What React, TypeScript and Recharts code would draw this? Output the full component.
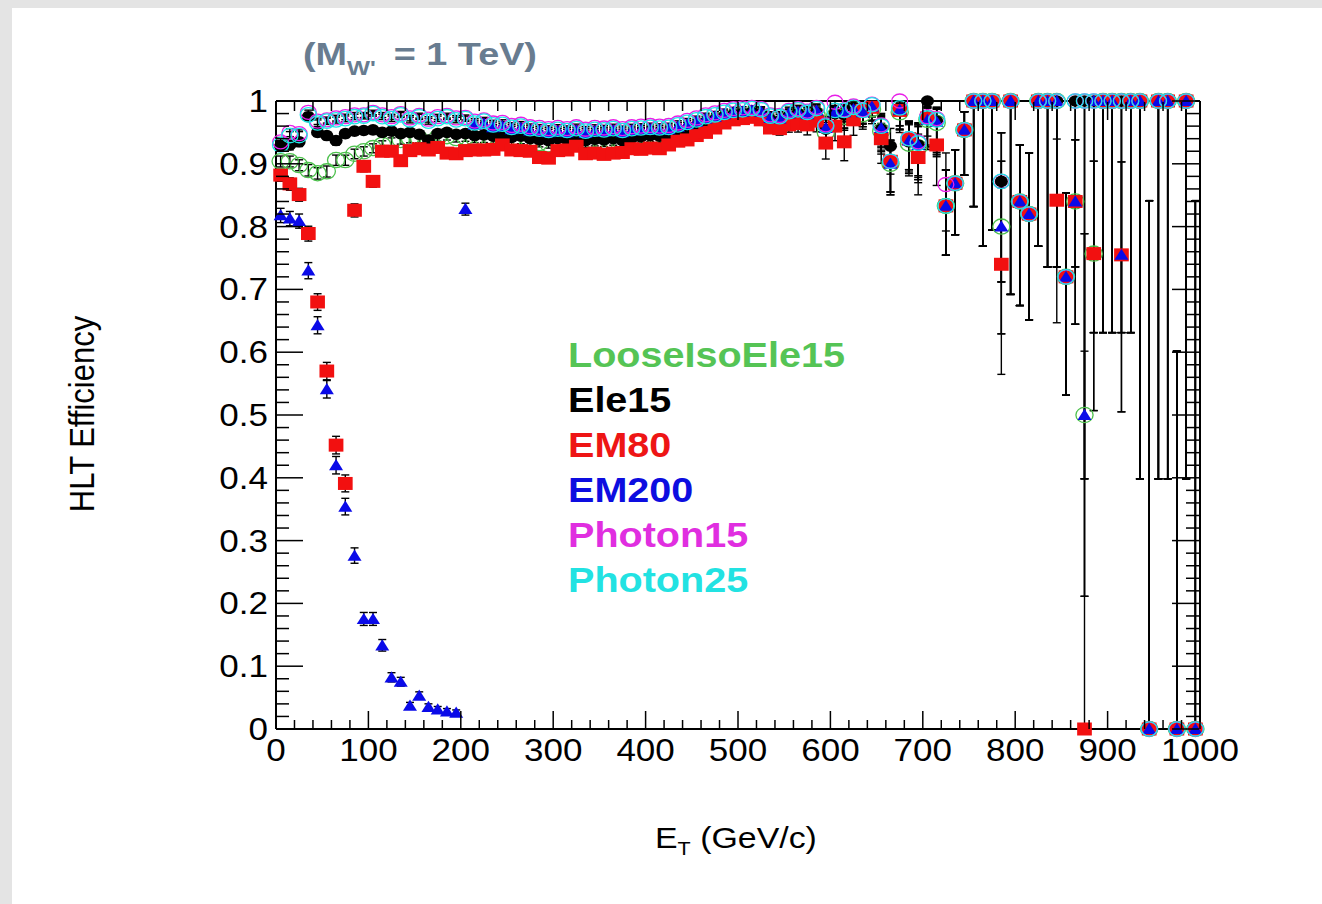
import React from "react";
import { ErrorBar, Legend, ReferenceLine, Scatter, ScatterChart, XAxis, YAxis } from "recharts";

// 10 GeV bins (centres, GeV)
const binCenters = [
  5, 15, 25, 35, 45, 55, 65, 75, 85, 95,
  105, 115, 125, 135, 145, 155, 165, 175, 185, 195,
  205, 215, 225, 235, 245, 255, 265, 275, 285, 295,
  305, 315, 325, 335, 345, 355, 365, 375, 385, 395,
  405, 415, 425, 435, 445, 455, 465, 475, 485, 495,
  505, 515, 525, 535, 545, 555, 565, 575, 585, 595,
  605, 615, 625, 635, 645, 655, 665, 675, 685, 695,
  705, 715, 725, 735, 745, 755, 765, 775, 785, 795,
  805, 815, 825, 835, 845, 855, 865, 875, 885, 895,
  905, 915, 925, 935, 945, 955, 965, 975, 985, 995,
];

// reconstructed electrons per bin (denominator of every efficiency)
const eventsPerBin = [
  1150, 1170, 1210, 1190, 1240, 1280, 1260, 1310, 1330, 1350,
  1370, 1360, 1400, 1430, 1420, 1470, 1490, 1480, 1530, 1550,
  1580, 1600, 1650, 1640, 1700, 1760, 1750, 1820, 1870, 1900,
  1960, 1990, 2060, 2090, 2170, 2200, 2250, 2330, 2370, 2460,
  2490, 2570, 2600, 2690, 2730, 2810, 2850, 2920, 2940, 2980,
  2600, 1800, 1100, 700, 480, 350, 260, 200, 160, 130,
  110, 95, 85, 75, 65, 58, 52, 46, 40, 36,
  32, 28, 30, 25, 20, 10, 7, 8, 8, 5,
  8, 8, 7, 6, 6, 7, 6, 2, 4, 4,
  4, 4, 4, 2, 1, 2, 2, 2, 2, 1,
];

const looseIsoEle15 = [
  0.904, 0.904, 0.898, 0.89, 0.885, 0.888, 0.906, 0.906, 0.916, 0.92,
  0.925, 0.93, 0.935, 0.938, 0.94, 0.94, 0.933, 0.942, 0.944, 0.941,
  0.942, 0.94, 0.94, 0.938, 0.94, 0.936, 0.938, 0.934, 0.933, 0.931,
  0.934, 0.933, 0.936, 0.932, 0.934, 0.933, 0.935, 0.932, 0.936, 0.938,
  0.94, 0.939, 0.941, 0.945, 0.95, 0.955, 0.961, 0.966, 0.971, 0.974,
  0.976, 0.978, 0.976, 0.966, 0.964, 0.972, 0.976, 0.971, 0.978, 0.95,
  0.976, 0.975, 0.986, 0.979, 0.987, 0.952, 0.9, 0.982, 0.932, 0.926,
  0.97, 0.965, 0.833, 0.869, 0.954, 1, 1, 1, 0.8, 1,
  0.84, 0.82, 1, 1, 1, 0.72, 0.84, 0.5, 0.757, 1,
  1, 1, 1, 1, 0, 1, 1, 0, 1, 0,
];

const ele15 = [
  0.928, 0.93, 0.935, 0.975, 0.95, 0.945, 0.937, 0.948, 0.952, 0.953,
  0.954, 0.95, 0.952, 0.948, 0.95, 0.947, 0.938, 0.948, 0.95, 0.947,
  0.948, 0.945, 0.946, 0.944, 0.945, 0.942, 0.944, 0.94, 0.938, 0.937,
  0.94, 0.938, 0.941, 0.937, 0.939, 0.938, 0.94, 0.937, 0.941, 0.943,
  0.945, 0.944, 0.946, 0.95, 0.955, 0.96, 0.966, 0.97, 0.975, 0.978,
  0.98, 0.982, 0.98, 0.97, 0.968, 0.976, 0.98, 0.975, 0.982, 0.955,
  0.98, 0.978, 0.99, 0.982, 0.99, 0.955, 0.928, 0.985, 0.935, 0.93,
  1, 0.968, 0.833, 0.869, 0.954, 1, 1, 1, 0.872, 1,
  0.84, 0.82, 1, 1, 1, 0.72, 1, 1, 1, 1,
  1, 1, 1, 1, 0, 1, 1, 0, 1, 0,
];

const em80 = [
  0.882, 0.868, 0.851, 0.789, 0.68, 0.57, 0.452, 0.391, 0.826, 0.896,
  0.872, 0.92, 0.92, 0.905, 0.921, 0.924, 0.922, 0.926, 0.917, 0.916,
  0.921, 0.922, 0.922, 0.923, 0.93, 0.922, 0.921, 0.92, 0.91, 0.909,
  0.921, 0.922, 0.928, 0.916, 0.917, 0.915, 0.917, 0.918, 0.924, 0.923,
  0.925, 0.924, 0.93, 0.936, 0.938, 0.945, 0.95, 0.957, 0.965, 0.97,
  0.972, 0.974, 0.97, 0.957, 0.956, 0.962, 0.964, 0.962, 0.968, 0.933,
  0.96, 0.935, 0.97, 0.985, 0.99, 0.94, 0.904, 0.985, 0.94, 0.91,
  0.973, 0.93, 0.833, 0.869, 0.954, 1, 1, 1, 0.74, 1,
  0.84, 0.82, 1, 1, 0.842, 0.72, 0.84, 0, 0.757, 1,
  1, 0.755, 1, 1, 0, 1, 1, 0, 1, 0,
];

const em200 = [
  0.818, 0.813, 0.809, 0.73, 0.643, 0.541, 0.42, 0.354, 0.276, 0.175,
  0.175, 0.133, 0.082, 0.075, 0.037, 0.053, 0.035, 0.031, 0.028, 0.026,
  0.828, 0.962, 0.964, 0.958, 0.96, 0.955, 0.957, 0.953, 0.952, 0.95,
  0.952, 0.95, 0.953, 0.949, 0.952, 0.951, 0.953, 0.95, 0.953, 0.954,
  0.955, 0.954, 0.955, 0.959, 0.963, 0.967, 0.972, 0.975, 0.979, 0.982,
  0.983, 0.985, 0.983, 0.973, 0.972, 0.98, 0.983, 0.979, 0.985, 0.957,
  0.982, 0.982, 0.987, 0.982, 0.991, 0.957, 0.9, 0.986, 0.937, 0.93,
  0.97, 0.967, 0.833, 0.869, 0.954, 1, 1, 1, 0.8, 1,
  0.84, 0.82, 1, 1, 1, 0.72, 0.84, 0.5, 1, 1,
  1, 0.755, 1, 1, 0, 1, 1, 0, 1, 0,
];

const photon15 = [
  0.935, 0.95, 0.948, 0.982, 0.968, 0.97, 0.973, 0.975, 0.978, 0.978,
  0.982, 0.978, 0.975, 0.98, 0.973, 0.977, 0.971, 0.975, 0.977, 0.973,
  0.974, 0.968, 0.97, 0.965, 0.966, 0.961, 0.963, 0.959, 0.958, 0.956,
  0.958, 0.956, 0.959, 0.955, 0.958, 0.957, 0.959, 0.956, 0.959, 0.96,
  0.961, 0.96, 0.961, 0.965, 0.969, 0.973, 0.978, 0.981, 0.985, 0.988,
  0.989, 0.99, 0.988, 0.978, 0.977, 0.985, 0.988, 0.984, 0.99, 0.962,
  0.998, 0.986, 0.992, 0.986, 0.995, 0.962, 0.904, 1, 0.94, 0.935,
  0.975, 0.972, 0.867, 0.869, 0.954, 1, 1, 1, 0.872, 1,
  0.84, 0.82, 1, 1, 1, 0.72, 1, 1, 1, 1,
  1, 1, 1, 1, 0, 1, 1, 0, 1, 0,
];

const photon25 = [
  0.93, 0.945, 0.945, 0.978, 0.965, 0.968, 0.97, 0.972, 0.975, 0.976,
  0.98, 0.975, 0.972, 0.978, 0.97, 0.975, 0.968, 0.972, 0.975, 0.97,
  0.972, 0.965, 0.968, 0.962, 0.963, 0.958, 0.96, 0.956, 0.955, 0.953,
  0.955, 0.953, 0.956, 0.952, 0.955, 0.954, 0.956, 0.953, 0.956, 0.957,
  0.958, 0.957, 0.958, 0.962, 0.966, 0.97, 0.975, 0.978, 0.982, 0.985,
  0.986, 0.988, 0.986, 0.976, 0.975, 0.983, 0.986, 0.982, 0.988, 0.96,
  0.985, 0.985, 0.99, 0.985, 0.994, 0.96, 0.904, 0.989, 0.94, 0.933,
  0.973, 0.97, 0.833, 0.869, 0.954, 1, 1, 1, 0.872, 1,
  0.84, 0.82, 1, 1, 1, 0.72, 1, 1, 1, 1,
  1, 1, 1, 1, 0, 1, 1, 0, 1, 0,
];

const xMajorTicks = [0, 100, 200, 300, 400, 500, 600, 700, 800, 900, 1000];
const yMajorTicks = [0, 0.1, 0.2, 0.3, 0.4, 0.5, 0.6, 0.7, 0.8, 0.9, 1];
const yTickLabels = ["0", "0.1", "0.2", "0.3", "0.4", "0.5", "0.6", "0.7", "0.8", "0.9", "1"];

const FONT = "'Liberation Sans', Arial, Helvetica, sans-serif";
const STRETCH = 1.13; // text is drawn a little wide, like the canvas it came from
const PLOT = { left: 276, top: 102, right: 1199, bottom: 729 };

// 5 divisions between major ticks
function withMinor(majors: number[]) {
  const out: number[] = [majors[0]];
  for (let i = 1; i < majors.length; i++) {
    const a = majors[i - 1];
    const step = (majors[i] - a) / 5;
    for (let k = 1; k <= 5; k++) out.push(Math.round((a + step * k) * 1000) / 1000);
  }
  return out;
}
const xTicks = withMinor(xMajorTicks);
const yTicks = withMinor(yMajorTicks);

// one-sigma interval: exact Clopper-Pearson at 0 and 1, Wilson score elsewhere
const ALPHA = 0.1587;
function effError(p: number, n: number): [number, number] {
  if (p >= 1) return [1 - Math.pow(ALPHA, 1 / n), 0];
  if (p <= 0) return [0, 1 - Math.pow(ALPHA, 1 / n)];
  const d = 1 + 1 / n;
  const c = (p + 1 / (2 * n)) / d;
  const h = Math.sqrt((p * (1 - p)) / n + 1 / (4 * n * n)) / d;
  const lo = Math.max(0, c - h);
  const hi = Math.min(1, c + h);
  return [Math.max(0, p - lo), Math.max(0, hi - p)];
}

function toPoints(values: number[]) {
  return binCenters.map((x, i) => ({ x, y: values[i], err: effError(values[i], eventsPerBin[i]) }));
}

type Kind = "open" | "dot" | "square" | "triangle";

function marker(kind: Kind, color: string, r: number) {
  return (p: any) => {
    const { cx, cy } = p;
    if (cx == null || cy == null) return <g />;
    if (kind === "open")
      return <ellipse cx={cx} cy={cy} rx={r * STRETCH} ry={r} fill="none" stroke={color} strokeWidth={1.3} />;
    if (kind === "dot") return <ellipse cx={cx} cy={cy} rx={r * STRETCH} ry={r} fill={color} />;
    if (kind === "square")
      return <rect x={cx - r * STRETCH} y={cy - r} width={2 * r * STRETCH} height={2 * r} fill={color} />;
    return (
      <polygon
        points={`${cx - r * STRETCH},${cy + r * 0.8} ${cx + r * STRETCH},${cy + r * 0.8} ${cx},${cy - r}`}
        fill={color}
      />
    );
  };
}

const series = [
  { name: "LooseIsoEle15", values: looseIsoEle15, color: "#4cc04c", text: "#55c455", kind: "open" as Kind, r: 7.6 },
  { name: "Ele15", values: ele15, color: "#000000", text: "#000000", kind: "dot" as Kind, r: 5.8 },
  { name: "EM80", values: em80, color: "#f21010", text: "#ee1515", kind: "square" as Kind, r: 6.5 },
  { name: "EM200", values: em200, color: "#0a0ae8", text: "#0d0de0", kind: "triangle" as Kind, r: 6.2 },
  { name: "Photon15", values: photon15, color: "#e81ee8", text: "#e02ee0", kind: "open" as Kind, r: 7 },
  { name: "Photon25", values: photon25, color: "#1ee6e6", text: "#22e2e2", kind: "open" as Kind, r: 7.2 },
];

function Stretched({ x, y, anchor, size, children, weight, fill }: any) {
  return (
    <text
      transform={`translate(${x},${y}) scale(${STRETCH},1)`}
      textAnchor={anchor}
      fontSize={size}
      fontFamily={FONT}
      fontWeight={weight ?? 400}
      fill={fill ?? "#000"}
    >
      {children}
    </text>
  );
}

// ROOT style: ticks point into the frame and are repeated on the opposite side
function XTick(props: any) {
  const { x, y, payload } = props;
  const v = payload.value;
  const major = xMajorTicks.includes(v);
  const len = major ? 18 : 9;
  return (
    <g>
      <line x1={x} x2={x} y1={y} y2={y - len} stroke="#000" strokeWidth={1.5} />
      <line x1={x} x2={x} y1={PLOT.top} y2={PLOT.top + len} stroke="#000" strokeWidth={1.5} />
      {major && (
        <Stretched x={x} y={y + 32} anchor="middle" size={31}>
          {String(v)}
        </Stretched>
      )}
    </g>
  );
}

function YTick(props: any) {
  const { x, y, payload } = props;
  const v = payload.value;
  const idx = yMajorTicks.findIndex((t) => Math.abs(t - v) < 1e-6);
  const major = idx >= 0;
  const len = major ? 27 : 13;
  return (
    <g>
      <line x1={x} x2={x + len} y1={y} y2={y} stroke="#000" strokeWidth={1.5} />
      <line x1={PLOT.right} x2={PLOT.right - len} y1={y} y2={y} stroke="#000" strokeWidth={1.5} />
      {major && (
        <Stretched x={x - 8} y={y + 11} anchor="end" size={31}>
          {yTickLabels[idx]}
        </Stretched>
      )}
    </g>
  );
}

function LegendBox() {
  return (
    <div
      style={{
        fontFamily: FONT,
        fontWeight: 700,
        fontSize: 35,
        lineHeight: "45px",
        transform: `scaleX(${STRETCH})`,
        transformOrigin: "0 0",
        whiteSpace: "nowrap",
      }}
    >
      {series.map((s) => (
        <div key={s.name} style={{ color: s.text }}>
          {s.name}
        </div>
      ))}
    </div>
  );
}

export default function App() {
  return (
    <div
      style={{
        position: "absolute",
        left: 0,
        top: 0,
        width: 1322,
        height: 904,
        background: "#e4e4e4",
        overflow: "hidden",
      }}
    >
      <div style={{ position: "absolute", left: 12, top: 8, right: 0, bottom: 0, background: "#fff" }} />
      <div style={{ position: "absolute", left: 0, top: 0 }}>
        <ScatterChart width={1322} height={904} margin={{ top: 101, right: 122, bottom: 174, left: 275 }}>
          <XAxis
            type="number"
            dataKey="x"
            domain={[0, 1000]}
            ticks={xTicks}
            interval={0}
            height={1}
            tickLine={false}
            tickSize={0}
            tickMargin={0}
            axisLine={{ stroke: "#000", strokeWidth: 2 }}
            tick={(p: any) => <XTick {...p} />}
          />
          <YAxis
            type="number"
            dataKey="y"
            domain={[0, 1]}
            ticks={yTicks}
            interval={0}
            width={1}
            tickLine={false}
            tickSize={0}
            tickMargin={0}
            axisLine={{ stroke: "#000", strokeWidth: 2 }}
            tick={(p: any) => <YTick {...p} />}
          />
          <ReferenceLine y={1} stroke="#000" strokeWidth={2} />
          <ReferenceLine x={1000} stroke="#000" strokeWidth={2} />
          {series.map((s) => (
            <Scatter
              key={s.name}
              name={s.name}
              data={toPoints(s.values)}
              fill={s.color}
              shape={marker(s.kind, s.color, s.r)}
              isAnimationActive={false}
            >
              <ErrorBar dataKey="err" direction="y" width={4} stroke="#000" strokeWidth={1.4} isAnimationActive={false} />
            </Scatter>
          ))}
          <Legend
            layout="horizontal"
            verticalAlign="middle"
            align="center"
            wrapperStyle={{ left: 568, top: 332, width: "auto", height: "auto" }}
            content={() => <LegendBox />}
          />
        </ScatterChart>
      </div>
      <svg width={1322} height={904} style={{ position: "absolute", left: 0, top: 0, pointerEvents: "none" }}>
        <text
          transform={`translate(303,65) scale(1.22,1)`}
          fontFamily={FONT}
          fontWeight={700}
          fontSize={31}
          fill="#687c90"
        >
          (M
          <tspan dy={10} fontSize={20}>
            W'
          </tspan>
          <tspan dy={-10} dx={6}>
            {" = 1 TeV)"}
          </tspan>
        </text>
        <text
          transform={`translate(94,414) scale(${STRETCH},1) rotate(-90)`}
          textAnchor="middle"
          fontFamily={FONT}
          fontSize={31}
        >
          HLT Efficiency
        </text>
        <text transform={`translate(655,848) scale(${STRETCH},1)`} fontFamily={FONT} fontSize={30}>
          E
          <tspan dy={7} fontSize={19}>
            T
          </tspan>
          <tspan dy={-7}>{" (GeV/c)"}</tspan>
        </text>
      </svg>
    </div>
  );
}
